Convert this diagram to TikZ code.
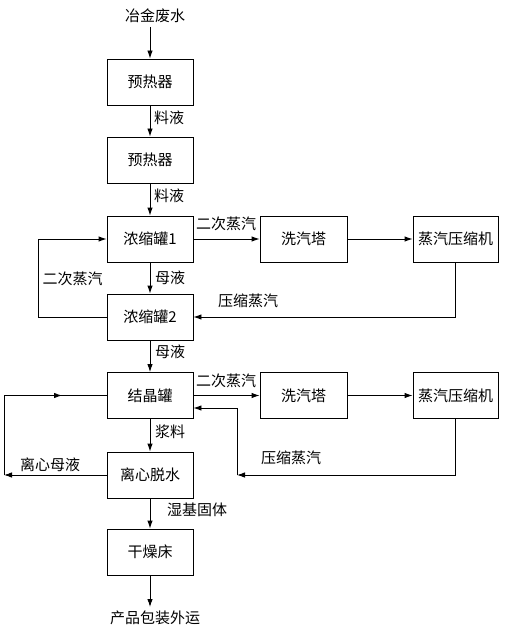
\documentclass[tikz,border=0pt]{standalone}
\usepackage{fontspec}
\setmainfont{Noto Sans CJK SC}
\usetikzlibrary{arrows.meta}
\begin{document}
\begin{tikzpicture}[x=1pt,y=-1pt, font=\fontsize{15}{17}\selectfont, line width=0.9pt,
  box/.style={draw, minimum width=86pt, minimum height=46pt, inner sep=0pt},
  lbl/.style={inner sep=0pt},
  arr/.style={-{Latex[length=8pt,width=5.5pt]}}]
\useasboundingbox (0,0) rectangle (505,631);
% main column
\node[lbl] (top) at (155,16) {冶金废水};
\coordinate (t0) at (150,27);
\node[box] (b1) at (150,82) {预热器};
\node[box] (b2) at (150,160) {预热器};
\node[box] (b3) at (150,239) {浓缩罐1};
\node[box] (b4) at (150,317) {浓缩罐2};
\node[box] (b5) at (150,395.5) {结晶罐};
\node[box] (b6) at (150,475) {离心脱水};
\node[box] (b7) at (150,552) {干燥床};
\coordinate (t1) at (150,607);
\node[lbl] (bot) at (155,618) {产品包装外运};
% right boxes
\node[box, minimum width=87pt] (w1) at (303.5,239) {洗汽塔};
\node[box, minimum width=85pt] (c1) at (455.5,239) {蒸汽压缩机};
\node[box, minimum width=87pt] (w2) at (303.5,395.5) {洗汽塔};
\node[box, minimum width=85pt] (c2) at (455.5,395.5) {蒸汽压缩机};
% vertical arrows
\draw[arr] (t0) -- (b1);
\draw[arr] (b1) -- (b2);
\draw[arr] (b2) -- (b3);
\draw[arr] (b3) -- (b4);
\draw[arr] (b4) -- (b5);
\draw[arr] (b5) -- (b6);
\draw[arr] (b6) -- (b7);
\draw[arr] (b7) -- (t1);
% top loop
\draw[arr] (b3) -- (w1);
\draw[arr] (w1) -- (c1);
\draw[arr] (c1.south) |- (b4.east);
\coordinate (L1) at (38,317);
\draw[arr] (b4.west) -- (L1) |- (b3.west);
% bottom loop
\draw[arr] (b5) -- (w2);
\draw[arr] (w2) -- (c2);
\coordinate (R2a) at (237,475);
\coordinate (R2b) at ([yshift=-12.5pt]b5.east);
\draw[arr] (c2.south) |- (R2a);
\draw[arr] (R2a) |- (R2b);
\coordinate (L2a) at (4,475);
\coordinate (L2b) at (4,395.5);
\coordinate (L2c) at (62,395.5);
\draw[arr] (b6.west) -- (L2a);
\draw (L2a) -- (L2b) -- (b5.west);
\draw[arr] (L2b) -- (L2c);
% labels
\node[lbl] (l1) at (169,118) {料液};
\node[lbl] (l2) at (169,196) {料液};
\node[lbl] (l3) at (170,278) {母液};
\node[lbl] (l4) at (170,352) {母液};
\node[lbl] (l5) at (170,432) {浆料};
\node[lbl] (l6) at (197,510) {湿基固体};
\node[lbl] (l7) at (226,224) {二次蒸汽};
\node[lbl] (l8) at (72.5,279) {二次蒸汽};
\node[lbl] (l9) at (248,301) {压缩蒸汽};
\node[lbl] (l10) at (226,381) {二次蒸汽};
\node[lbl] (l11) at (291,458) {压缩蒸汽};
\node[lbl] (l12) at (50,465) {离心母液};
\end{tikzpicture}
\end{document}
